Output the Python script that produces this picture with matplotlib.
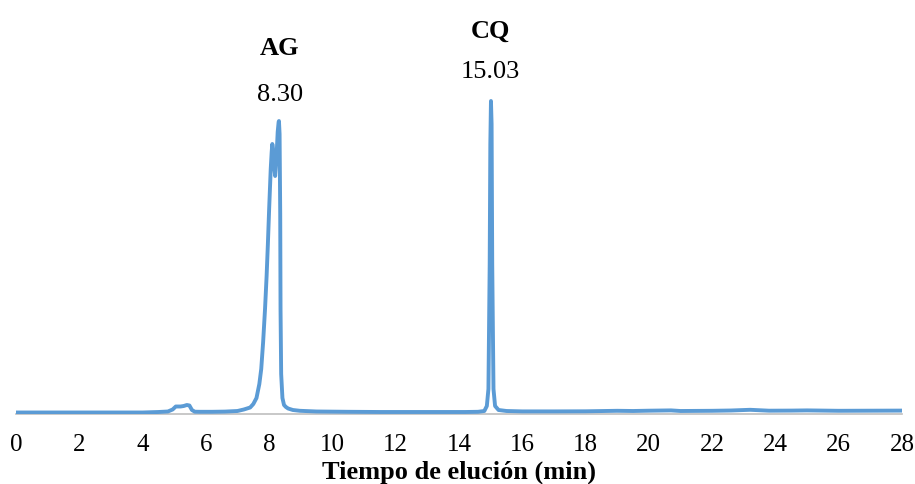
import matplotlib
matplotlib.use("Agg")
import matplotlib.pyplot as plt

plt.rcParams['font.family'] = ['Liberation Serif', 'DejaVu Serif']

# Chromatogram trace (time in min, detector signal in arbitrary units)
time_min = [0.0, 1.0, 2.0, 3.0, 4.0, 4.5, 4.8, 4.95, 5.05, 5.2, 5.3, 5.4, 5.48, 5.56, 5.65,
            5.8, 6.2, 6.6, 7.0, 7.2, 7.4, 7.5, 7.6, 7.69, 7.75, 7.81, 7.87, 7.92, 7.96,
            8.0, 8.05, 8.08, 8.1, 8.12, 8.15, 8.19, 8.23, 8.27, 8.3, 8.31, 8.33, 8.35,
            8.36, 8.38, 8.42, 8.47, 8.53, 8.6, 8.75, 8.97, 9.5, 10.5, 11.5, 12.5, 13.5,
            14.2, 14.6, 14.8, 14.88, 14.93, 14.97, 14.99, 15.01, 15.03, 15.05, 15.09,
            15.14, 15.25, 15.5, 16.0, 17.0, 18.0, 19.0, 19.5, 20.0, 20.7, 21.0, 22.0,
            22.6, 23.2, 23.8, 24.5, 25.0, 26.0, 27.0, 28.0]
signal = [1.5, 1.5, 1.5, 1.5, 1.5, 2.0, 2.5, 4.5, 7.5, 7.5, 8.0, 9.0, 8.5, 4.0, 2.3,
          2.2, 2.2, 2.4, 3.0, 4.5, 6.5, 10.0, 16.0, 30.0, 45.0, 72.0, 105.0, 138.0, 170.0,
          205.0, 245.0, 262.0, 270.0, 266.0, 250.0, 238.0, 255.0, 282.0, 292.0, 293.0, 280.0, 200.0,
          105.0, 40.0, 16.0, 9.0, 7.0, 5.5, 4.0, 3.2, 2.5, 2.2, 2.0, 2.0, 2.0,
          2.0, 2.2, 3.0, 8.0, 25.0, 150.0, 270.0, 313.0, 290.0, 150.0, 25.0,
          8.0, 4.0, 3.0, 2.6, 2.6, 2.7, 3.2, 3.0, 3.3, 3.6, 3.0, 3.2,
          3.5, 4.2, 3.3, 3.4, 3.6, 3.2, 3.3, 3.4]

x_ticks = list(range(0, 29, 2))

peak_names = ["AG", "CQ"]
peak_times = [8.30, 15.03]
peak_label_t = [8.34, 15.0]
name_heights = [360, 377]
time_heights = [314, 336.7]

fig = plt.figure(figsize=(9.15, 4.85), dpi=100)
ax = fig.add_axes([16/915, 70/485, 886/915, 395/485])

ax.plot(time_min, signal, color='#5B9BD5', linewidth=2.8, solid_joinstyle='round',
        solid_capstyle='round', zorder=3)

ax.set_xlim(0, 28)
ax.set_ylim(0, 395)
ax.set_xticks(x_ticks)
ax.set_xticklabels([str(t) for t in x_ticks], fontsize=18)
ax.tick_params(axis='x', length=0, pad=14)
ax.set_yticks([])
for s in ['top', 'right', 'left']:
    ax.spines[s].set_visible(False)
ax.spines['bottom'].set_color('#BFBFBF')
ax.spines['bottom'].set_linewidth(1.2)
ax.spines['bottom'].set_zorder(2)

ax.set_xlabel("Tiempo de elución (min)", fontsize=19, fontweight='bold', labelpad=3)

for name, t, tl, hn, ht in zip(peak_names, peak_times, peak_label_t, name_heights, time_heights):
    ax.text(tl, hn, name, ha='center', va='baseline', fontsize=19, fontweight='bold')
    ax.text(tl, ht, f"{t:.2f}", ha='center', va='baseline', fontsize=19)

fig.savefig("out.png", dpi=100)
